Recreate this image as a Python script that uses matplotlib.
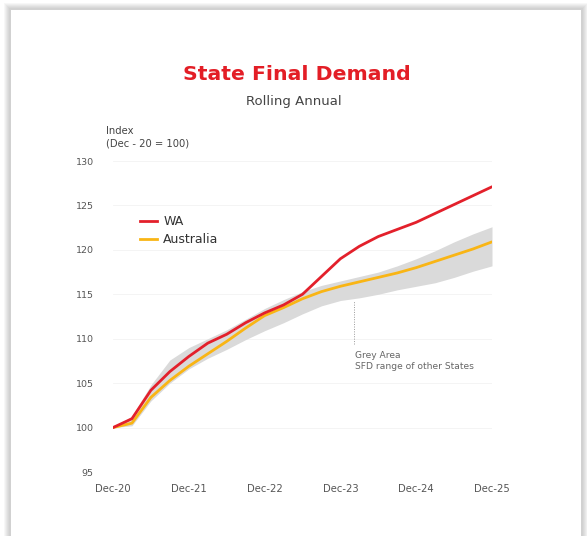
import matplotlib
matplotlib.use("Agg")
import matplotlib.pyplot as plt
from matplotlib.patches import Rectangle

plt.rcParams['font.family'] = ['DejaVu Sans']

# ---- data (quarterly, Dec-20 .. Dec-25) ----
quarters = list(range(21))
wa = [100, 101.0, 104.2, 106.3, 108.0, 109.5, 110.5, 111.8, 112.9, 113.8, 115.0,
      117.0, 119.0, 120.4, 121.5, 122.3, 123.1, 124.1, 125.1, 126.1, 127.1]
australia = [100, 100.5, 103.4, 105.3, 106.9, 108.3, 109.7, 111.2, 112.6, 113.5, 114.5,
             115.3, 115.9, 116.4, 116.9, 117.4, 118.0, 118.7, 119.4, 120.1, 120.9]
band_low = [100, 100.2, 103.0, 105.0, 106.6, 107.8, 108.8, 109.9, 110.9, 111.8, 112.8,
            113.7, 114.3, 114.6, 115.0, 115.5, 115.9, 116.3, 116.9, 117.6, 118.2]
band_high = [100, 101.3, 104.8, 107.6, 109.0, 110.0, 111.0, 112.2, 113.4, 114.4, 115.3,
             116.0, 116.5, 117.0, 117.5, 118.2, 119.0, 119.9, 120.9, 121.8, 122.6]
x_ticks = [0, 4, 8, 12, 16, 20]
x_labels = ["Dec-20", "Dec-21", "Dec-22", "Dec-23", "Dec-24", "Dec-25"]
y_ticks = [95, 100, 105, 110, 115, 120, 125, 130]

W, H = 587, 536
fig = plt.figure(figsize=(W / 100, H / 100), dpi=100)
fig.patch.set_facecolor("white")

# card with soft shadow
bg = fig.add_axes([0, 0, 1, 1])
bg.set_xlim(0, W)
bg.set_ylim(H, 0)
bg.axis("off")
for i in range(6):
    g = 7 - i
    bg.add_patch(Rectangle((11 - g, 10 - g), 570 + 2 * g, 540, facecolor="#000000",
                           alpha=0.03, edgecolor="none"))
bg.add_patch(Rectangle((11, 10), 570, 540, facecolor="white", edgecolor="none"))

red = "#e3202b"
yellow = "#f9b515"
grey = "#dadada"
txt = "#555555"

left, right = 113 / W, 492 / W
bottom, top = 1 - 472 / H, 1 - 161 / H
ax = fig.add_axes([left, bottom, right - left, top - bottom])
ax.set_facecolor("none")
ax.set_xlim(0, 20)
ax.set_ylim(95, 130)

ax.fill_between(quarters, band_low, band_high, color=grey, lw=0, zorder=1)
ax.plot(quarters, australia, color=yellow, lw=2.0, zorder=3, solid_capstyle="round")
ax.plot(quarters, wa, color=red, lw=2.0, zorder=4, solid_capstyle="round")

ax.set_yticks(y_ticks)
ax.set_yticklabels([str(v) for v in y_ticks], fontsize=6.8, color=txt)
ax.set_xticks(x_ticks)
ax.set_xticklabels(x_labels, fontsize=7.2, color=txt)
ax.tick_params(axis="both", length=0)
ax.tick_params(axis="y", pad=14)
ax.tick_params(axis="x", pad=9)
for s in ax.spines.values():
    s.set_visible(False)
ax.grid(axis="y", color="#f3f3f3", lw=0.6, zorder=0)
ax.set_axisbelow(True)

# legend drawn manually
ax.plot([1.4, 2.3], [123.2, 123.2], color=red, lw=2, clip_on=False)
ax.text(2.65, 123.2, "WA", fontsize=9, color="#333333", va="center")
ax.plot([1.4, 2.3], [121.2, 121.2], color=yellow, lw=2, clip_on=False)
ax.text(2.65, 121.2, "Australia", fontsize=9, color="#333333", va="center")

# annotation
ax.plot([12.7, 12.7], [109.4, 114.2], color="#999999", lw=0.7, ls=(0, (1, 1.5)))
ax.text(12.75, 108.6, "Grey Area\nSFD range of other States", fontsize=6.6, color="#666666",
        va="top", ha="left", linespacing=1.2)

# axis caption
fig.text(106 / W, 1 - 137.5 / H, "Index\n(Dec - 20 = 100)", fontsize=7.2, color="#444444",
         va="center", ha="left", linespacing=1.35)

# titles
fig.text(297 / W, 1 - 75 / H, "State Final Demand", fontsize=14.7, fontweight="bold",
         color="#e31e26", ha="center", va="center")
fig.text(294 / W, 1 - 102 / H, "Rolling Annual", fontsize=9.5, color="#444444",
         ha="center", va="center")

fig.savefig("out.png", dpi=100, facecolor="white")
